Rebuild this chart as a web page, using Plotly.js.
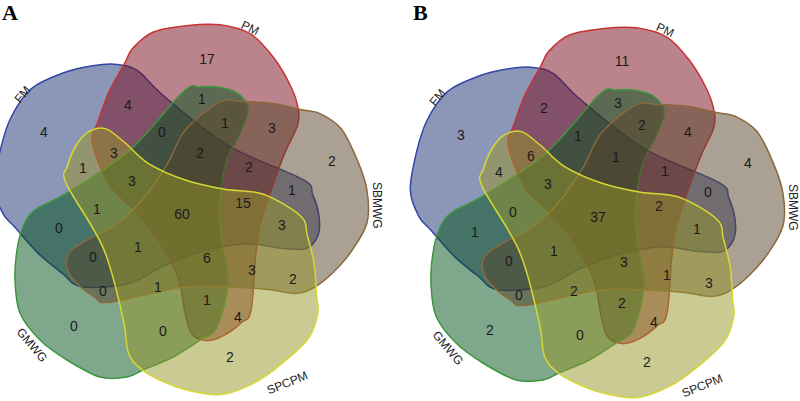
<!DOCTYPE html>
<html>
<head>
<meta charset="utf-8">
<script src="https://cdn.plot.ly/plotly-3.0.1.min.js"></script>
<style>html,body{margin:0;padding:0;background:#fff;}#chart{width:800px;height:401px;}</style>
</head>
<body>
<div id="chart"></div>
<script>
// ---------- DATA ----------
const setNames = ["FM", "PM", "SBMWG", "SPCPM", "GMWG"];
const panelNames = ["A", "B"];
// region identifiers (set memberships)
const regions = [
  "PM", "FM&PM", "PM&GMWG", "FM", "FM&PM&GMWG", "PM&SBMWG&GMWG", "PM&SBMWG", "SBMWG",
  "FM&PM&SPCPM", "FM&PM&SBMWG&GMWG", "FM&PM&SBMWG", "FM&SPCPM", "FM&PM&SPCPM&GMWG",
  "FM&SBMWG", "FM&PM&SBMWG&SPCPM", "FM&SPCPM&GMWG", "FM&PM&SBMWG&SPCPM&GMWG",
  "FM&SBMWG&SPCPM", "FM&GMWG", "PM&SBMWG&SPCPM&GMWG", "PM&SBMWG&SPCPM", "FM&SBMWG&GMWG",
  "PM&SBMWG&SPCPM_b", "SBMWG&SPCPM", "SBMWG&GMWG", "SBMWG&SPCPM&GMWG", "PM&SPCPM&GMWG",
  "PM&SPCPM", "GMWG", "SPCPM&GMWG", "SPCPM"
];
const countsA = [17, 4, 1, 4, 0, 1, 3, 2, 3, 2, 2, 1, 3, 1, 15, 1, 60, 3, 0, 1, 6, 0, 3, 2, 0, 1, 1, 4, 0, 0, 2];
const countsB = [11, 2, 3, 3, 1, 2, 4, 4, 6, 1, 1, 4, 3, 0, 2, 0, 37, 1, 1, 1, 3, 0, 1, 3, 0, 2, 2, 4, 2, 0, 2];

// ---------- LAYOUT (positions / geometry / styles) ----------
const labelPosA = [[207,60],[128,106],[202,100],[44,133],[162,133],[225,124],[272,129],[332,162],
  [114,154],[200,154],[249,168],[83,169],[132,182],[292,191],[243,204],[97,210],[182,215],
  [282,226],[59,229],[138,248],[207,259],[93,258],[252,271],[293,280],[103,292],[158,288],
  [207,301],[238,318],[74,327],[163,332],[230,358]];
const labelPosB = [[622,62],[544,109],[618,104],[461,136],[578,137],[642,126],[688,133],[748,164],
  [531,157],[616,158],[665,172],[499,173],[548,185],[708,193],[659,207],[513,213],[598,218],
  [697,230],[475,233],[554,252],[624,263],[509,262],[667,276],[709,284],[519,296],[574,292],
  [622,304],[654,323],[490,331],[580,336],[647,363]];

const centers = [[180,215],[596,218]];
// per set: lobe direction (deg), scale along lobe axis, scale across, shift x, shift y
const setGeom = [
  {ang: 152, sA: 1.04, sP: 1.03, dx: 0,  dy: 0},   // FM
  {ang: 81,  sA: 1.00, sP: 0.95, dx: 4,  dy: -6},  // PM
  {ang: 8,   sA: 0.98, sP: 0.95, dx: 4,  dy: -6},  // SBMWG
  {ang: -64, sA: 0.95, sP: 1.02, dx: 2,  dy: 5},   // SPCPM
  {ang: -136,sA: 1.00, sP: 1.00, dx: 0,  dy: 0}    // GMWG
];
const templateAngle = -136;
// base blob (lobe + arm) in local coords, y up
const template = [
  [-165,-65],[-163,-35],[-157,-12],[-145,5],[-113,22],[-50,65],[3,123],[20,128],[43,127],
  [60,120],[68,105],[60,82],[46,52],[40,10],[42,-30],[48,-68],[37,-112],[20,-125],[-7,-142],
  [-37,-155],[-53,-162],[-80,-162],[-113,-145],[-140,-125],[-160,-98]
];
const fills = ["rgba(25,45,110,0.5)","rgba(120,10,25,0.5)","rgba(85,65,40,0.5)","rgba(150,150,40,0.5)","rgba(0,80,25,0.5)"];
const lines = ["rgb(50,70,170)","rgb(200,50,50)","rgb(140,105,60)","rgb(215,215,50)","rgb(60,150,60)"];
const drawOrder = [0,1,4,2,3];
const setLabelPos = [
  [[22,95],-50],[[250,28],25],[[377,205],90],[[287,383],-22],[[32,345],50]
];
const setLabelPosB = [
  [[437,98],-50],[[665,30],25],[[793,207],90],[[702,386],-22],[[448,348],50]
];
const panelTitlePos = [[10,12],[420,12]];

function blobPath(cx, cy, g) {
  const r0 = -templateAngle * Math.PI / 180, r1 = g.ang * Math.PI / 180;
  const c0 = Math.cos(r0), s0 = Math.sin(r0), c1 = Math.cos(r1), s1 = Math.sin(r1);
  const pts = template.map(([x,y]) => {
    let u = x*c0 - y*s0, v = x*s0 + y*c0;   // lobe along +u
    u *= g.sA; v *= g.sP;
    const xr = u*c1 - v*s1, yr = u*s1 + v*c1;
    return [cx + g.dx + xr, cy + g.dy - yr];
  });
  const n = pts.length;
  let p = `M ${pts[0][0].toFixed(2)},${pts[0][1].toFixed(2)}`;
  for (let i = 0; i < n; i++) {
    const p0 = pts[(i-1+n)%n], p1 = pts[i], p2 = pts[(i+1)%n], p3 = pts[(i+2)%n];
    const a = [p1[0] + (p2[0]-p0[0])/6, p1[1] + (p2[1]-p0[1])/6];
    const b = [p2[0] - (p3[0]-p1[0])/6, p2[1] - (p3[1]-p1[1])/6];
    p += ` C ${a[0].toFixed(2)},${a[1].toFixed(2)} ${b[0].toFixed(2)},${b[1].toFixed(2)} ${p2[0].toFixed(2)},${p2[1].toFixed(2)}`;
  }
  return p + " Z";
}

const shapes = [];
centers.forEach(([cx, cy]) => {
  drawOrder.forEach(k => {
    shapes.push({
      type: "path", xref: "x", yref: "y", layer: "below",
      path: blobPath(cx, cy, setGeom[k]),
      fillcolor: fills[k],
      line: {color: lines[k], width: 1.5}
    });
  });
});

const textFont = {family: "Liberation Sans, Arial, sans-serif", size: 14, color: "#1a1a1a"};
const traces = [
  {x: labelPosA.map(p=>p[0]), y: labelPosA.map(p=>p[1]), text: countsA.map(String),
   customdata: regions, mode: "text", type: "scatter", hoverinfo: "none", textfont: textFont, showlegend: false},
  {x: labelPosB.map(p=>p[0]), y: labelPosB.map(p=>p[1]), text: countsB.map(String),
   customdata: regions, mode: "text", type: "scatter", hoverinfo: "none", textfont: textFont, showlegend: false}
];

const annotations = [];
[setLabelPos, setLabelPosB].forEach(arr => {
  arr.forEach(([pos, ang], k) => {
    annotations.push({x: pos[0], y: pos[1], xref: "x", yref: "y", text: setNames[k],
      showarrow: false, textangle: ang,
      font: {family: "Liberation Sans, Arial, sans-serif", size: 12, color: "#222"}});
  });
});
panelNames.forEach((t, i) => {
  annotations.push({x: panelTitlePos[i][0], y: panelTitlePos[i][1], xref: "x", yref: "y",
    text: "<b>" + t + "</b>", showarrow: false,
    font: {family: "Liberation Serif, Times New Roman, serif", size: 22, color: "#000"}});
});

const layout = {
  width: 800, height: 401,
  margin: {l: 0, r: 0, t: 0, b: 0},
  paper_bgcolor: "#fff", plot_bgcolor: "rgba(0,0,0,0)",
  xaxis: {range: [0, 800], visible: false, fixedrange: true},
  yaxis: {range: [401, 0], visible: false, fixedrange: true},
  shapes: shapes, annotations: annotations, showlegend: false
};
Plotly.newPlot("chart", traces, layout, {staticPlot: true, displayModeBar: false});
</script>
</body>
</html>
